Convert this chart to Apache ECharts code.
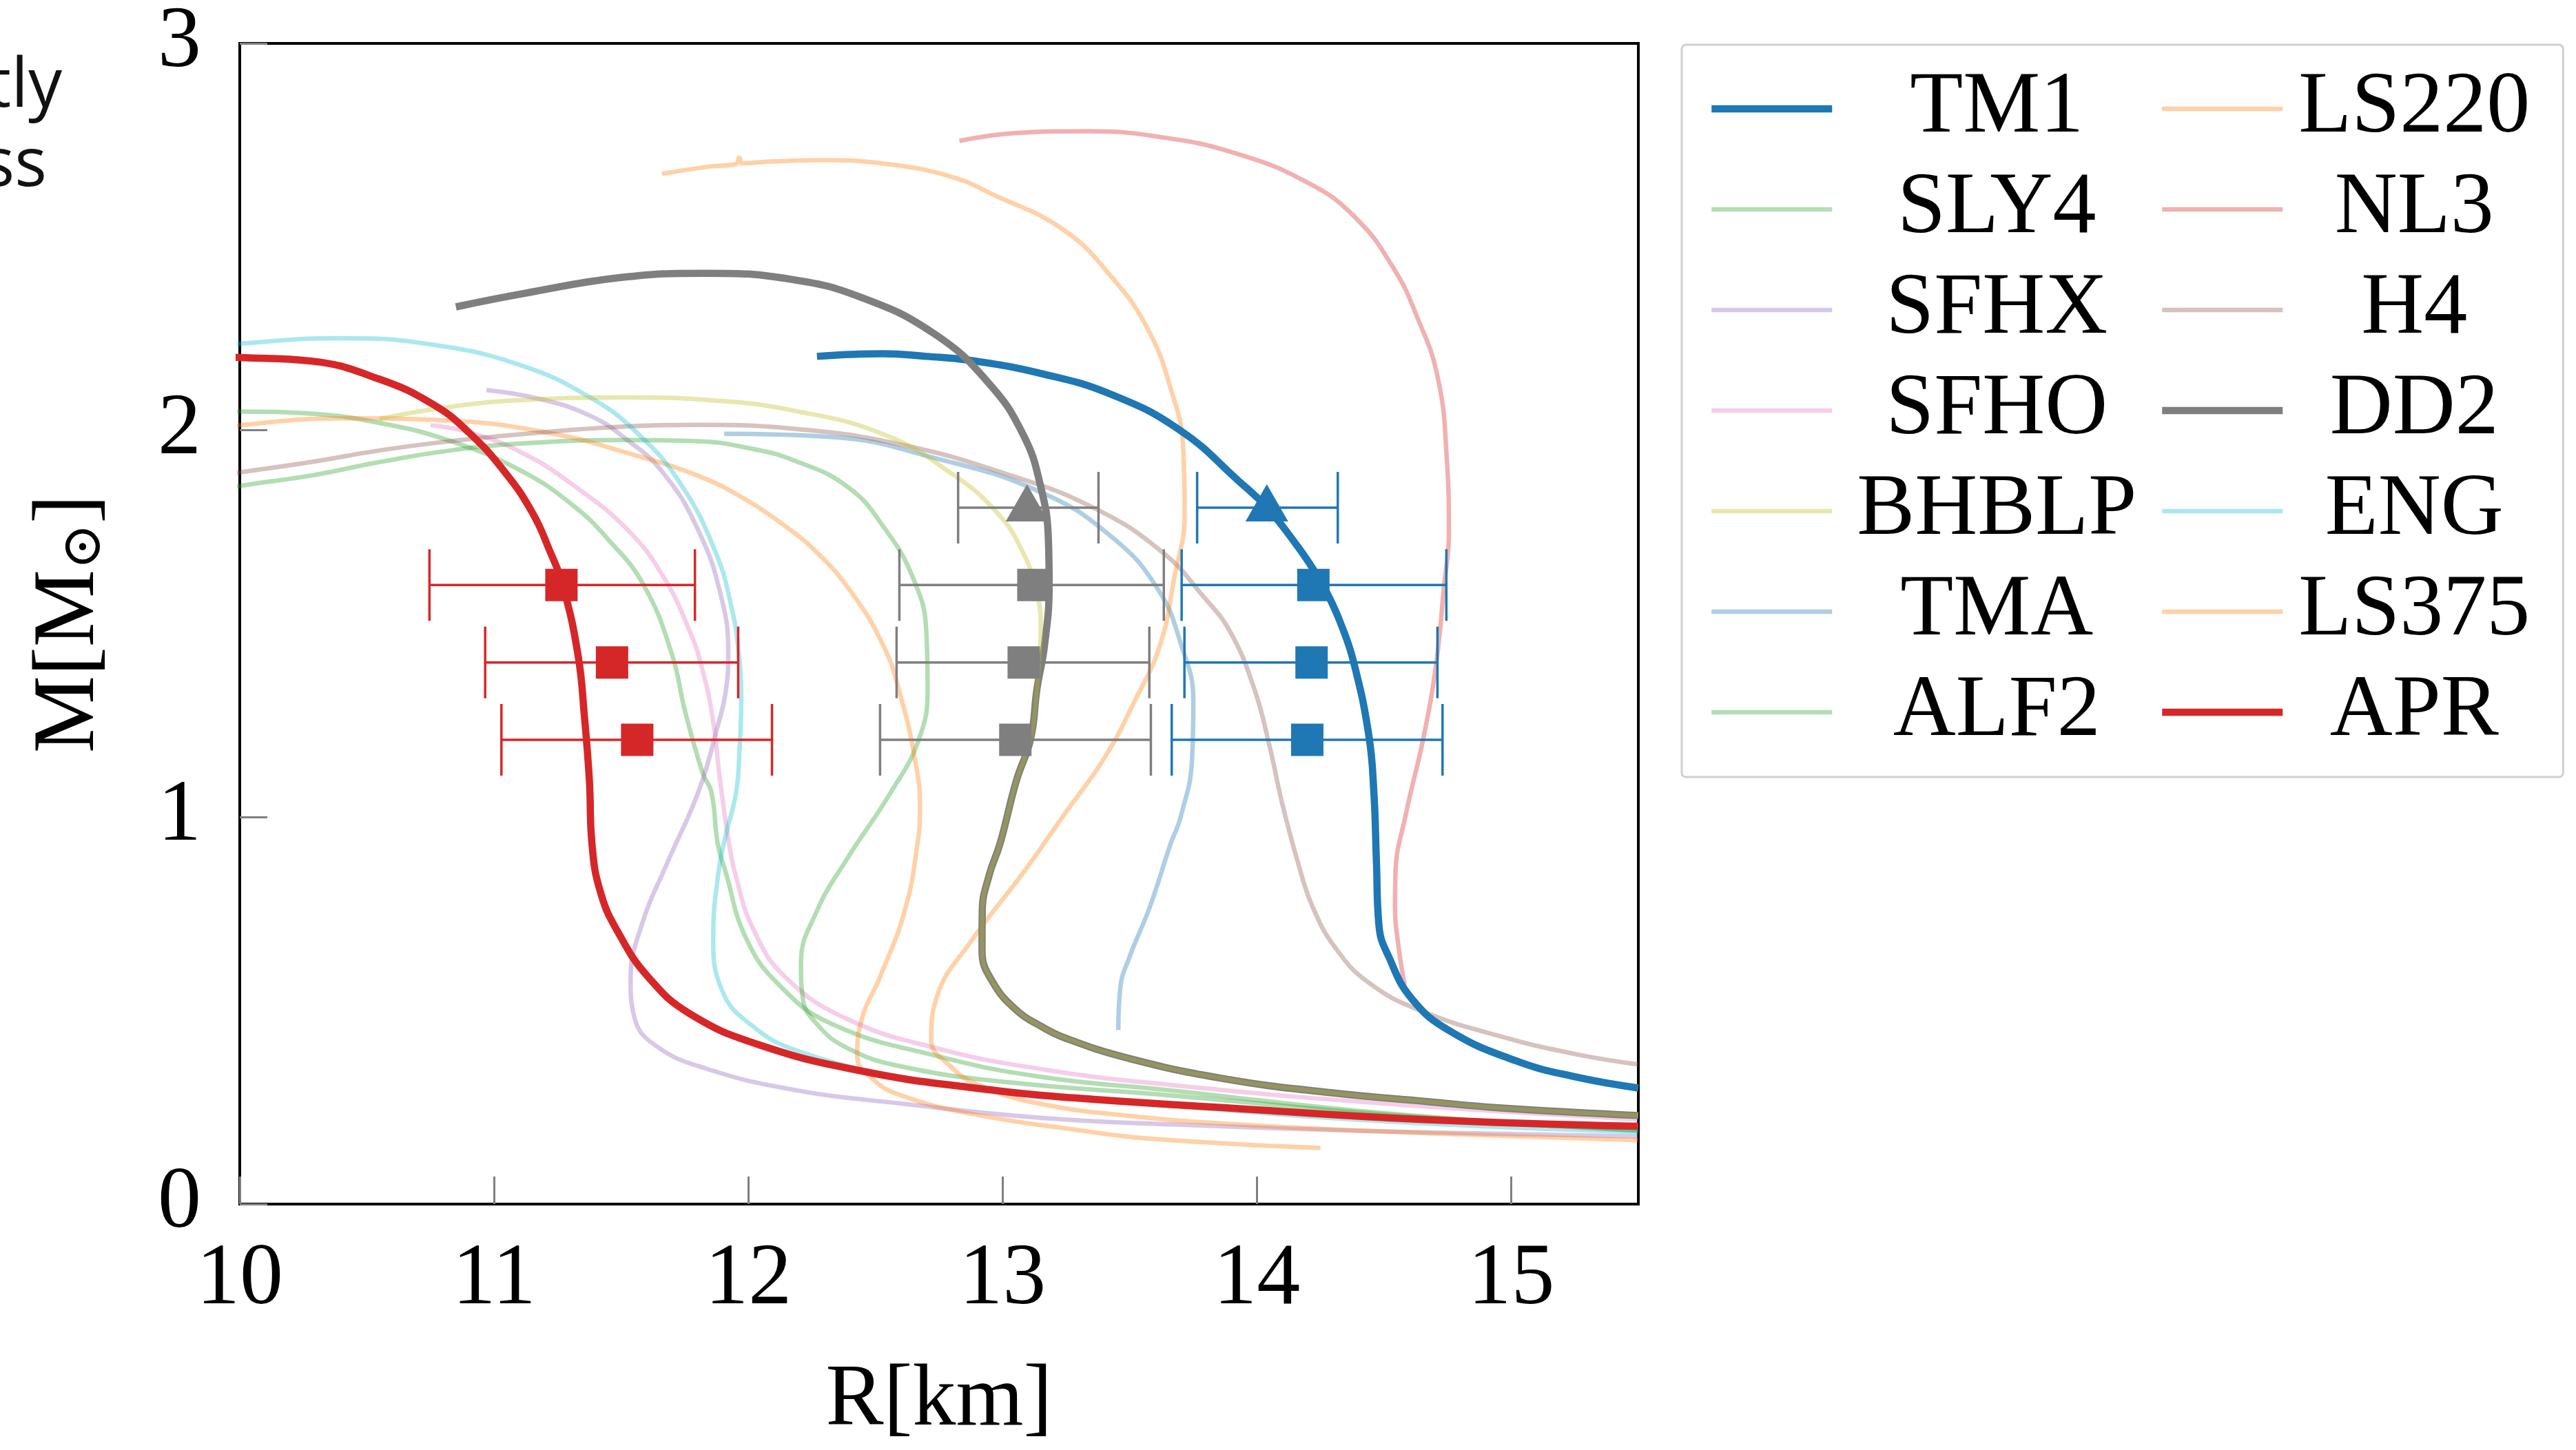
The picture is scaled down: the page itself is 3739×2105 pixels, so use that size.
<!DOCTYPE html>
<html><head><meta charset="utf-8">
<script src="https://cdn.jsdelivr.net/npm/echarts@6/dist/echarts.min.js"></script>
<style>html,body{margin:0;padding:0;background:#fff;}#c{width:3739px;height:2105px;}</style>
</head><body><div id="c"></div>
<script>
// ---- Mass–radius curves: [R (km), M (Msun)] ----
const TM1 = [[12.27,2.191],[12.4,2.196],[12.53,2.198],[12.7,2.191],[12.87,2.181],[13.15,2.147],[13.43,2.092],[13.70,1.999],[13.93,1.868],[14.04,1.80],[14.16,1.70],[14.23,1.632],[14.28,1.574],[14.33,1.50],[14.38,1.402],[14.44,1.212],[14.46,1.064],[14.47,0.886],[14.48,0.72],[14.52,0.637],[14.61,0.53],[14.76,0.447],[15.02,0.370],[15.25,0.329],[15.5,0.300]];
const SLY4 = [[9.9,2.05],[10.0,2.049],[10.28,2.043],[10.55,2.019],[10.83,1.972],[11.11,1.894],[11.31,1.806],[11.45,1.717],[11.59,1.598],[11.70,1.42],[11.75,1.277],[11.82,1.115],[11.855,1.064],[11.88,0.93],[11.91,0.86],[11.99,0.689],[12.12,0.567],[12.33,0.465],[12.74,0.383],[13.15,0.329],[13.66,0.294],[14.5,0.235],[15.5,0.19]];
const SFHX = [[10.97,2.104],[11.18,2.081],[11.38,2.037],[11.52,1.977],[11.66,1.894],[11.80,1.746],[11.894,1.568],[11.921,1.42],[11.91,1.32],[11.879,1.234],[11.806,1.07],[11.68,0.88],[11.585,0.73],[11.537,0.58],[11.551,0.485],[11.634,0.41],[11.84,0.349],[12.19,0.294],[12.60,0.26],[13.15,0.223],[13.66,0.206],[14.5,0.188],[15.5,0.175]];
const SFHO = [[10.75,2.013],[10.90,1.995],[11.11,1.942],[11.31,1.859],[11.52,1.746],[11.66,1.628],[11.77,1.48],[11.82,1.38],[11.86,1.255],[11.888,1.10],[11.92,0.95],[11.95,0.85],[12.02,0.71],[12.145,0.587],[12.39,0.478],[12.74,0.403],[13.15,0.349],[13.66,0.308],[14.5,0.26],[15.5,0.219]];
const BHBLP = [[10.55,2.030],[10.83,2.061],[11.11,2.078],[11.52,2.085],[11.87,2.077],[12.17,2.052],[12.53,1.99],[12.80,1.888],[12.98,1.786],[13.08,1.684],[13.135,1.581],[13.15,1.479],[13.145,1.42],[13.135,1.331],[13.11,1.202],[13.054,1.094],[12.99,0.932],[12.947,0.85],[12.92,0.758],[12.919,0.655],[12.961,0.574],[13.058,0.499],[13.15,0.46],[13.243,0.43],[13.50,0.376],[13.88,0.323],[14.29,0.288],[14.67,0.265],[14.95,0.249],[15.5,0.229]];
const TMA = [[11.905,1.991],[12.32,1.983],[12.73,1.929],[13.15,1.84],[13.43,1.724],[13.61,1.59],[13.70,1.45],[13.75,1.3],[13.745,1.15],[13.70,1.0],[13.66,0.93],[13.58,0.77],[13.50,0.64],[13.463,0.56],[13.455,0.45]];
const ALF2 = [[9.9,1.84],[10.0,1.856],[10.28,1.883],[10.55,1.918],[10.83,1.948],[11.11,1.966],[11.52,1.975],[11.80,1.972],[12.0,1.954],[12.18,1.922],[12.39,1.854],[12.53,1.752],[12.65,1.615],[12.70,1.479],[12.705,1.331],[12.67,1.2],[12.56,1.064],[12.39,0.894],[12.27,0.758],[12.207,0.621],[12.214,0.533],[12.27,0.465],[12.39,0.403],[12.60,0.356],[13.02,0.315],[13.66,0.281],[14.5,0.232],[15.5,0.19]];
const LS220 = [[9.8,1.99],[10.0,2.013],[10.42,2.031],[10.83,2.025],[11.24,1.99],[11.52,1.942],[11.80,1.883],[12.0,1.817],[12.17,1.74],[12.25,1.697],[12.39,1.595],[12.53,1.445],[12.60,1.31],[12.655,1.15],[12.675,1.03],[12.665,0.93],[12.615,0.758],[12.518,0.587],[12.449,0.485],[12.428,0.383],[12.491,0.322],[12.60,0.281],[12.88,0.233],[13.29,0.192],[13.58,0.169],[14.25,0.145]];
const NL3 = [[12.83,2.748],[13.05,2.768],[13.34,2.773],[13.62,2.758],[13.91,2.717],[14.20,2.64],[14.39,2.548],[14.54,2.416],[14.63,2.293],[14.71,2.14],[14.746,1.936],[14.755,1.732],[14.736,1.598],[14.706,1.402],[14.657,1.212],[14.585,1.005],[14.545,0.857],[14.543,0.767],[14.558,0.661],[14.581,0.566]];
const H4 = [[9.9,1.88],[10.0,1.891],[10.28,1.918],[10.55,1.948],[10.83,1.972],[11.11,1.99],[11.52,2.01],[11.80,2.014],[12.18,2.004],[12.60,1.963],[13.01,1.888],[13.36,1.799],[13.63,1.684],[13.79,1.57],[13.895,1.479],[13.99,1.331],[14.05,1.183],[14.10,1.034],[14.16,0.886],[14.22,0.767],[14.31,0.661],[14.44,0.572],[14.64,0.501],[14.95,0.435],[15.25,0.388],[15.5,0.361]];
const DD2 = [[10.85,2.319],[11.12,2.354],[11.50,2.395],[11.83,2.406],[12.17,2.39],[12.45,2.342],[12.73,2.25],[12.94,2.126],[13.08,1.99],[13.15,1.854],[13.18,1.718],[13.183,1.60],[13.165,1.445],[13.135,1.331],[13.11,1.202],[13.054,1.094],[12.99,0.932],[12.947,0.85],[12.92,0.758],[12.919,0.655],[12.961,0.574],[13.058,0.499],[13.15,0.46],[13.243,0.43],[13.50,0.376],[13.88,0.323],[14.29,0.288],[14.67,0.265],[14.95,0.249],[15.5,0.229]];
const ENG = [[9.9,2.215],[10.0,2.224],[10.39,2.238],[10.76,2.221],[11.11,2.167],[11.38,2.084],[11.56,1.995],[11.73,1.865],[11.87,1.687],[11.935,1.539],[11.963,1.42],[11.972,1.30],[11.965,1.17],[11.952,1.064],[11.91,0.95],[11.883,0.86],[11.862,0.689],[11.896,0.553],[12.007,0.465],[12.19,0.397],[12.60,0.329],[13.15,0.281],[13.66,0.254],[14.5,0.214],[15.5,0.186]];
const LS375 = [[11.66,2.663],[11.85,2.682],[11.95,2.688],[11.965,2.705],[11.975,2.69],[12.1,2.695],[12.3,2.698],[12.55,2.688],[12.8,2.655],[12.96,2.61],[13.24,2.518],[13.43,2.395],[13.57,2.263],[13.66,2.11],[13.71,1.956],[13.716,1.786],[13.674,1.615],[13.619,1.445],[13.52,1.301],[13.40,1.153],[13.24,1.005],[13.085,0.86],[12.88,0.683],[12.74,0.533],[12.719,0.424],[12.795,0.356],[12.9,0.31],[13.12,0.263],[13.5,0.228],[14.0,0.203],[14.6,0.185],[15.5,0.165]];
const APR = [[9.9,2.19],[10.0,2.188],[10.28,2.179],[10.55,2.132],[10.76,2.067],[10.90,1.995],[11.04,1.894],[11.15,1.788],[11.22,1.687],[11.27,1.60],[11.33,1.42],[11.356,1.256],[11.375,1.094],[11.385,0.932],[11.42,0.803],[11.49,0.70],[11.606,0.587],[11.77,0.492],[12.05,0.41],[12.46,0.342],[12.88,0.301],[13.29,0.274],[13.88,0.249],[14.64,0.219],[15.5,0.201]];

// ---- Measurements: [R centre, M, R low, R high] ----
const APR_SQ = [[11.265,1.6,10.746,11.79],[11.464,1.4,10.965,11.96],[11.563,1.2,11.029,12.093]];
const DD2_SQ = [[13.121,1.6,12.594,13.634],[13.083,1.4,12.583,13.577],[13.05,1.2,12.518,13.583]];
const DD2_TRI = [[13.096,1.8,12.825,13.377]];
const TM1_SQ = [[14.222,1.6,13.704,14.745],[14.215,1.4,13.715,14.71],[14.198,1.2,13.665,14.73]];
const TM1_TRI = [[14.039,1.8,13.765,14.318]];

// ---- Axis ticks ----
const X_MIN = 10, X_MAX = 15.5, X_STEP = 1;
const Y_MIN = 0, Y_MAX = 3, Y_STEP = 1;

const LEFT_NAMES = ['TM1','SLY4','SFHX','SFHO','BHBLP','TMA','ALF2'];
const RIGHT_NAMES = ['LS220','NL3','H4','DD2','ENG','LS375','APR'];

const F = "'Liberation Serif','DejaVu Serif',serif";
const A = 0.36;
const TW = 6.5, BW = 10.5;
const styles = {
  TM1:  {c:'rgb(31,119,180)', w:BW},
  SLY4: {c:`rgba(44,160,44,${A})`, w:TW},
  SFHX: {c:`rgba(148,103,189,${A})`, w:TW},
  SFHO: {c:`rgba(227,119,194,${A})`, w:TW},
  BHBLP:{c:`rgba(188,189,34,${A})`, w:TW},
  TMA:  {c:`rgba(31,119,180,${A})`, w:TW},
  ALF2: {c:`rgba(44,160,44,${A})`, w:TW},
  LS220:{c:`rgba(255,127,14,${A})`, w:TW},
  NL3:  {c:`rgba(214,39,40,${A})`, w:TW},
  H4:   {c:`rgba(140,86,75,${A})`, w:TW},
  DD2:  {c:'rgb(127,127,127)', w:BW},
  ENG:  {c:`rgba(23,190,207,${A})`, w:TW},
  LS375:{c:`rgba(255,127,14,${A})`, w:TW},
  APR:  {c:'rgb(214,39,40)', w:BW}
};
const curveData = {TM1,SLY4,SFHX,SFHO,BHBLP,TMA,ALF2,LS220,NL3,H4,DD2,ENG,LS375,APR};
const drawOrder = ['SLY4','SFHX','SFHO','TMA','ALF2','LS220','NL3','H4','ENG','LS375','TM1','DD2','BHBLP','APR'];

const lineSeries = drawOrder.map(n => ({
  type:'line', name:n, data:curveData[n], showSymbol:false, symbol:'none',
  smooth:0.45, silent:true, z:2,
  lineStyle:{color:styles[n].c, width:styles[n].w, cap:'butt', join:'round'},
  itemStyle:{color:styles[n].c},
  emphasis:{disabled:true}
}));

function errSeries(name, data, color){
  return {type:'custom', name, data, z:5, silent:true, encode:{x:0,y:1},
    renderItem(params, api){
      const m = api.value(1), lo = api.value(2), hi = api.value(3);
      const a = api.coord([lo,m]), b = api.coord([hi,m]);
      const h = 52, st = {stroke:color, lineWidth:3.5};
      return {type:'group', children:[
        {type:'line', shape:{x1:a[0],y1:a[1],x2:b[0],y2:b[1]}, style:st},
        {type:'line', shape:{x1:a[0],y1:a[1]-h,x2:a[0],y2:a[1]+h}, style:st},
        {type:'line', shape:{x1:b[0],y1:b[1]-h,x2:b[0],y2:b[1]+h}, style:st}
      ]};
    }};
}
function markSeries(name, data, color, symbol, size, off){
  return {type:'scatter', name, data, symbol, symbolSize:size, symbolOffset:off||[0,0], z:6, silent:true,
    itemStyle:{color, opacity:1}, emphasis:{disabled:true}};
}

function legendItems(names){
  return names.map(n => ({name:n, lineStyle:{color:styles[n].c, width:styles[n].w}, itemStyle:{opacity:0}}));
}

const axisLabelStyle = {fontFamily:F, fontSize:126, color:'#000', lineHeight:126};

const option = {
  animation:false,
  backgroundColor:'#fff',
  graphic:[
    {type:'text', x:90, y:127, style:{text:'tly', font:'98px "Open Sans"', fill:'#111', textAlign:'right', align:'right', textVerticalAlign:'middle', verticalAlign:'middle'}},
    {type:'text', x:68, y:242, style:{text:'ss', font:'98px "Open Sans"', fill:'#111', textAlign:'right', align:'right', textVerticalAlign:'middle', verticalAlign:'middle'}}
  ],
  grid:{left:348, right:1361, top:62, bottom:357, show:true, borderColor:'#000', borderWidth:4, backgroundColor:'transparent'},
  xAxis:{type:'value', min:X_MIN, max:X_MAX, interval:X_STEP,
    name:'R[km]', nameLocation:'middle', nameGap:224,
    nameTextStyle:{fontFamily:F, fontSize:126, color:'#000'},
    axisLine:{show:false}, splitLine:{show:false},
    axisTick:{show:true, inside:true, length:40, lineStyle:{color:'#808080', width:3}},
    axisLabel:Object.assign({margin:48, showMaxLabel:false}, axisLabelStyle)},
  yAxis:{type:'value', min:Y_MIN, max:Y_MAX, interval:Y_STEP,
    name:'M[M{s|⊙}]', nameLocation:'middle', nameGap:176, nameRotate:90,
    nameTextStyle:{fontFamily:F, fontSize:126, color:'#000', lineHeight:140,
      rich:{s:{fontFamily:"'DejaVu Serif',serif", fontSize:80, color:'#000', padding:[44,0,0,0]}}},
    axisLine:{show:false}, splitLine:{show:false},
    axisTick:{show:true, inside:true, length:40, lineStyle:{color:'#808080', width:3}},
    axisLabel:Object.assign({margin:56}, axisLabelStyle)},
  legend:[
    {orient:'vertical', left:2441, top:65, padding:[30,588,31,38],
     itemWidth:175, itemHeight:14, itemGap:20, selectedMode:false,
     borderColor:'#cfcfcf', borderWidth:3, borderRadius:6, backgroundColor:'#fff',
     data:legendItems(LEFT_NAMES), formatter:'{n|{name}}',
     textStyle:{rich:{n:{width:468, align:'center', fontSize:126, lineHeight:126, fontFamily:F, color:'#000'}}}},
    {orient:'vertical', left:3133, top:95, padding:0,
     itemWidth:175, itemHeight:14, itemGap:20, selectedMode:false,
     data:legendItems(RIGHT_NAMES), formatter:'{n|{name}}',
     textStyle:{rich:{n:{width:372, align:'center', fontSize:126, lineHeight:126, fontFamily:F, color:'#000'}}}}
  ],
  series:[
    ...lineSeries,
    errSeries('APR err', APR_SQ, '#d62728'),
    errSeries('DD2 err', DD2_SQ.concat(DD2_TRI), '#7f7f7f'),
    errSeries('TM1 err', TM1_SQ.concat(TM1_TRI), '#1f77b4'),
    markSeries('APR pts', APR_SQ, '#d62728', 'rect', 47),
    markSeries('DD2 pts', DD2_SQ, '#7f7f7f', 'rect', 47),
    markSeries('TM1 pts', TM1_SQ, '#1f77b4', 'rect', 47),
    markSeries('DD2 tri', DD2_TRI, '#7f7f7f', 'triangle', [62,54], [0,-7]),
    markSeries('TM1 tri', TM1_TRI, '#1f77b4', 'triangle', [62,54], [0,-7])
  ]
};
const chart = echarts.init(document.getElementById('c'), null, {renderer:'canvas', width:3739, height:2105});
chart.setOption(option);
</script>
</body></html>
